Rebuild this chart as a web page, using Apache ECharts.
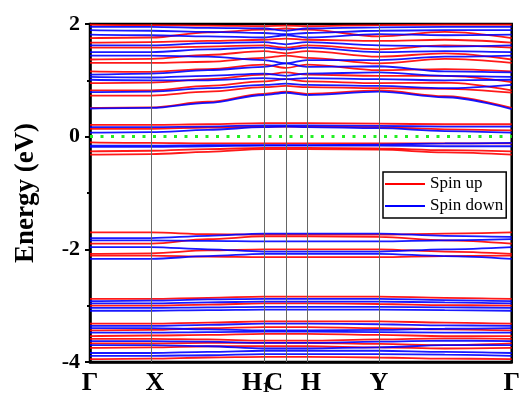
<!DOCTYPE html>
<html>
<head>
<meta charset="utf-8">
<script src="https://cdn.jsdelivr.net/npm/echarts@6/dist/echarts.min.js"></script>
<style>
  html, body { margin: 0; padding: 0; background: #fff; }
  #chart { width: 523px; height: 398px; }
</style>
</head>
<body>
<div id="chart"></div>
<script>
// k-path positions (Γ, X, mid, H1, C, H, Y, mid, Γ)
var kPath = [0, 61, 118, 174, 196, 217, 289, 355, 422];
var symPoints = [0, 61, 174, 196, 217, 289, 422];
var symLabels = ['Γ', 'X', 'H1', 'C', 'H', 'Y', 'Γ'];
var fermiLevel = 0;

// spin up, conduction side
var upHigh = [
  [1.99, 1.98, 1.97, 1.96, 1.97, 1.96, 1.98, 1.99, 1.99],
  [1.75, 1.76, 1.85, 1.90, 1.92, 1.90, 1.78, 1.86, 1.75],
  [1.67, 1.68, 1.70, 1.72, 1.74, 1.72, 1.70, 1.72, 1.67],
  [1.58, 1.58, 1.60, 1.62, 1.58, 1.62, 1.55, 1.62, 1.58],
  [1.37, 1.38, 1.45, 1.52, 1.48, 1.52, 1.42, 1.48, 1.37],
  [1.31, 1.31, 1.33, 1.40, 1.44, 1.40, 1.30, 1.38, 1.31],
  [1.16, 1.15, 1.20, 1.28, 1.22, 1.28, 1.18, 1.20, 1.16],
  [0.95, 0.96, 1.02, 1.10, 1.14, 1.10, 1.08, 1.08, 0.97],
  [0.82, 0.82, 0.90, 0.98, 1.02, 0.98, 0.95, 0.96, 0.82],
  [0.73, 0.73, 0.80, 0.88, 0.90, 0.88, 0.86, 0.85, 0.78],
  [0.51, 0.52, 0.62, 0.76, 0.80, 0.76, 0.82, 0.72, 0.51]
];
// spin down, conduction side
var downHigh = [
  [1.95, 1.95, 1.93, 1.92, 1.88, 1.92, 1.94, 1.95, 1.95],
  [1.89, 1.88, 1.86, 1.84, 1.82, 1.84, 1.88, 1.89, 1.89],
  [1.81, 1.80, 1.78, 1.76, 1.80, 1.76, 1.82, 1.80, 1.81],
  [1.62, 1.62, 1.66, 1.68, 1.64, 1.68, 1.62, 1.60, 1.62],
  [1.50, 1.50, 1.55, 1.58, 1.55, 1.58, 1.50, 1.52, 1.50],
  [1.44, 1.44, 1.42, 1.36, 1.30, 1.36, 1.36, 1.42, 1.44],
  [1.10, 1.12, 1.18, 1.24, 1.30, 1.24, 1.25, 1.16, 1.14],
  [1.06, 1.05, 1.08, 1.12, 1.08, 1.12, 1.14, 1.08, 1.06],
  [1.01, 1.00, 1.00, 1.04, 1.02, 1.04, 1.02, 1.00, 1.01],
  [0.79, 0.80, 0.86, 0.92, 0.94, 0.92, 0.90, 0.86, 0.92],
  [0.50, 0.51, 0.60, 0.74, 0.78, 0.74, 0.80, 0.70, 0.49]
];
// bands next to the Fermi level
var upGap = [
  [0.21, 0.21, 0.22, 0.24, 0.24, 0.24, 0.23, 0.22, 0.22],
  [0.14, 0.14, 0.16, 0.18, 0.18, 0.18, 0.17, 0.13, 0.11],
  [-0.10, -0.11, -0.12, -0.12, -0.12, -0.12, -0.12, -0.12, -0.12],
  [-0.26, -0.25, -0.22, -0.20, -0.20, -0.20, -0.21, -0.24, -0.26],
  [-0.32, -0.31, -0.27, -0.22, -0.22, -0.22, -0.23, -0.28, -0.32]
];
var downGap = [
  [0.17, 0.17, 0.18, 0.20, 0.20, 0.20, 0.19, 0.18, 0.18],
  [0.07, 0.08, 0.12, 0.17, 0.18, 0.17, 0.15, 0.10, 0.07],
  [-0.16, -0.16, -0.15, -0.15, -0.15, -0.15, -0.14, -0.12, -0.11],
  [-0.18, -0.18, -0.17, -0.16, -0.16, -0.16, -0.16, -0.17, -0.17]
];
// valence bands
var upLow = [
  [-1.70, -1.70, -1.73, -1.74, -1.74, -1.74, -1.74, -1.72, -1.70],
  [-1.90, -1.90, -1.82, -1.77, -1.77, -1.77, -1.78, -1.84, -1.90],
  [-2.08, -2.07, -2.02, -2.00, -2.00, -2.00, -2.00, -2.04, -2.08],
  [-2.11, -2.11, -2.13, -2.14, -2.14, -2.14, -2.14, -2.12, -2.11],
  [-2.88, -2.88, -2.86, -2.84, -2.84, -2.84, -2.84, -2.86, -2.88],
  [-3.00, -3.00, -2.98, -2.96, -2.96, -2.96, -2.97, -2.99, -3.00],
  [-3.32, -3.32, -3.30, -3.28, -3.28, -3.28, -3.28, -3.30, -3.32],
  [-3.44, -3.43, -3.40, -3.38, -3.38, -3.38, -3.40, -3.42, -3.44],
  [-3.54, -3.53, -3.52, -3.50, -3.50, -3.50, -3.52, -3.54, -3.54],
  [-3.59, -3.59, -3.60, -3.62, -3.62, -3.62, -3.60, -3.58, -3.59],
  [-3.67, -3.67, -3.66, -3.66, -3.66, -3.66, -3.68, -3.70, -3.67],
  [-3.75, -3.74, -3.72, -3.72, -3.72, -3.72, -3.74, -3.76, -3.75],
  [-3.95, -3.94, -3.92, -3.91, -3.91, -3.91, -3.92, -3.94, -3.95]
];
var downLow = [
  [-1.80, -1.80, -1.76, -1.72, -1.72, -1.72, -1.72, -1.76, -1.78],
  [-1.84, -1.84, -1.85, -1.86, -1.86, -1.86, -1.86, -1.84, -1.82],
  [-1.96, -1.96, -2.00, -2.04, -2.04, -2.04, -2.04, -2.00, -1.96],
  [-2.17, -2.17, -2.12, -2.08, -2.08, -2.08, -2.08, -2.12, -2.17],
  [-2.92, -2.91, -2.89, -2.88, -2.88, -2.88, -2.88, -2.90, -2.92],
  [-2.96, -2.96, -2.94, -2.93, -2.93, -2.93, -2.93, -2.94, -2.96],
  [-3.04, -3.04, -3.03, -3.02, -3.02, -3.02, -3.02, -3.03, -3.04],
  [-3.09, -3.09, -3.08, -3.07, -3.07, -3.07, -3.07, -3.08, -3.09],
  [-3.36, -3.36, -3.34, -3.32, -3.32, -3.32, -3.33, -3.35, -3.36],
  [-3.40, -3.40, -3.42, -3.44, -3.44, -3.44, -3.43, -3.41, -3.40],
  [-3.48, -3.48, -3.47, -3.46, -3.46, -3.46, -3.47, -3.48, -3.48],
  [-3.63, -3.63, -3.64, -3.66, -3.66, -3.66, -3.64, -3.62, -3.63],
  [-3.70, -3.70, -3.72, -3.76, -3.76, -3.76, -3.74, -3.70, -3.70],
  [-3.84, -3.84, -3.82, -3.80, -3.80, -3.80, -3.80, -3.82, -3.84],
  [-3.89, -3.89, -3.88, -3.86, -3.86, -3.86, -3.86, -3.87, -3.89]
];

var serif = 'Liberation Serif';
var chart = echarts.init(document.getElementById('chart'));

function bandSeries(name, color, bands) {
  return bands.map(function (b) {
    return {
      name: name,
      type: 'line',
      data: kPath.map(function (k, i) { return [k, b[i]]; }),
      symbol: 'none',
      smooth: 0.35,
      smoothMonotone: 'x',
      color: color,
      lineStyle: { color: color, width: 1.8, opacity: 0.9 },
      itemStyle: { color: color },
      silent: true,
      z: 3
    };
  });
}

var series = [];
series = series.concat(bandSeries('Spin up', '#ff0000', upHigh.concat(upGap, upLow)));
series = series.concat(bandSeries('Spin down', '#0000ff', downHigh.concat(downGap, downLow)));

// high-symmetry lines
series.push({
  type: 'line',
  data: [],
  silent: true,
  z: 1,
  markLine: {
    silent: true,
    symbol: 'none',
    label: { show: false },
    lineStyle: { color: '#666', width: 1, type: 'solid' },
    data: symPoints.slice(1, -1).map(function (v) { return { xAxis: v }; })
  }
});
// Fermi level (dotted green)
series.push({
  type: 'line',
  data: [],
  silent: true,
  color: '#22ee22',
  z: 6,
  markLine: {
    silent: true,
    symbol: 'none',
    label: { show: false },
    emphasis: { disabled: true },
    lineStyle: { color: '#22ee22', width: 3, type: [3, 7.5], opacity: 1 },
    data: [{ yAxis: fermiLevel }]
  }
});

var option = {
  animation: false,
  backgroundColor: '#fff',
  grid: {
    left: 90, right: 11, top: 24, bottom: 36,
    show: true, borderColor: '#000', borderWidth: 2.5
  },
  legend: {
    data: ['Spin up', 'Spin down'],
    orient: 'vertical',
    left: 383,
    top: 172,
    icon: 'rect',
    itemWidth: 40,
    itemHeight: 2,
    itemGap: 4,
    padding: [3, 3, 3, 2],
    borderColor: '#000',
    borderWidth: 1.5,
    backgroundColor: '#fff',
    textStyle: { fontFamily: serif, fontSize: 17, color: '#000', lineHeight: 18 }
  },
  xAxis: {
    type: 'value',
    min: 0,
    max: 422,
    axisLine: { onZero: false, lineStyle: { color: '#000', width: 2.5 } },
    axisTick: { show: false },
    splitLine: { show: false },
    axisLabel: {
      customValues: symPoints,
      margin: 8,
      color: '#000',
      fontFamily: serif,
      fontWeight: 'bold',
      fontSize: 26,
      formatter: function (v) {
        var t = symLabels[symPoints.indexOf(v)];
        if (t === 'H1') return '{b|H}{s|1}{p|}';
        if (t === 'C') return '{c|C}';
        if (t === 'X' || t === 'H') return '{r|' + t + '}';
        return t;
      },
      rich: {
        b: { fontFamily: serif, fontWeight: 'bold', fontSize: 26, color: '#000' },
        s: { fontFamily: serif, fontWeight: 'bold', fontSize: 15, color: '#000', padding: [11, 0, 0, 0] },
        p: { width: 16 },
        c: { fontFamily: serif, fontWeight: 'bold', fontSize: 26, color: '#000', padding: [0, 24, 0, 0] },
        r: { fontFamily: serif, fontWeight: 'bold', fontSize: 26, color: '#000', padding: [0, 0, 0, 8] }
      }
    }
  },
  yAxis: {
    type: 'value',
    min: -4,
    max: 2,
    interval: 2,
    name: 'Energy (eV)',
    nameLocation: 'middle',
    nameRotate: 90,
    nameGap: 50,
    nameTextStyle: { fontFamily: serif, fontWeight: 'bold', fontSize: 27, color: '#000' },
    axisLine: { onZero: false, lineStyle: { color: '#000', width: 2.5 } },
    axisTick: { inside: false, length: 5, lineStyle: { color: '#000', width: 2 } },
    minorTick: { show: true, splitNumber: 2, length: 3, lineStyle: { color: '#000', width: 2 } },
    splitLine: { show: false },
    axisLabel: {
      margin: 10,
      color: '#000',
      fontFamily: serif,
      fontWeight: 'bold',
      fontSize: 22
    }
  },
  series: series
};

chart.setOption(option);
</script>
</body>
</html>
